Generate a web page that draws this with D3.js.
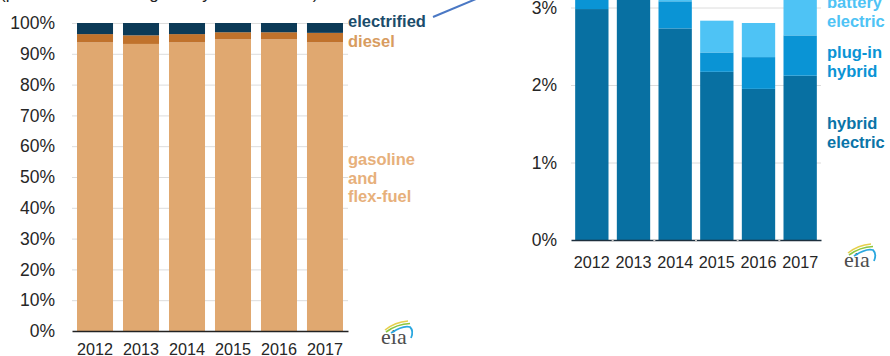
<!DOCTYPE html>
<html>
<head>
<meta charset="utf-8">
<script src="https://cdn.jsdelivr.net/npm/d3@7"></script>
<style>
  html, body { margin: 0; padding: 0; background: #fff; overflow: hidden; }
  svg { display: block; overflow: hidden; font-family: "Liberation Sans", Arial, sans-serif; }
</style>
</head>
<body>
<svg id="chart" width="890" height="356"></svg>
<script>
// Light-duty vehicle sales shares by fuel type, 2012-2017
const years = ["2012", "2013", "2014", "2015", "2016", "2017"];

// Left panel: share of all sales (percent)
const gasolineShare    = [93.7, 93.2, 93.7, 94.7, 94.7, 93.7];
const dieselShare      = [2.7, 2.8, 2.7, 2.3, 2.3, 3.1];
const electrifiedShare = [3.6, 4.0, 3.6, 3.0, 3.0, 3.2];
const shareTicks = [0, 10, 20, 30, 40, 50, 60, 70, 80, 90, 100];

// Right panel: electrified vehicles by type (percent of all sales)
const hybridShare  = [2.98, 3.20, 2.73, 2.17, 1.95, 2.12];
const plugInShare  = [0.30, 0.45, 0.35, 0.25, 0.41, 0.52];
const batteryShare = [0.10, 0.30, 0.35, 0.41, 0.44, 0.66];
const electricTicks = [0, 1, 2, 3];

const svg = d3.select("#chart");

// ---------- left panel ----------
const leftRows = years.map((y, i) => ({
  year: y, gasoline: gasolineShare[i], diesel: dieselShare[i], electrified: electrifiedShare[i]
}));
const leftKeys = ["gasoline", "diesel", "electrified"];
const leftColors = { gasoline: "#e0a870", diesel: "#c0722c", electrified: "#0c3a57" };

const xL = d3.scaleBand().domain(years).range([72, 348]).paddingInner(0.217).paddingOuter(0.109);
const yL = d3.scaleLinear().domain([0, 100]).range([331, 23]);

const gL = svg.append("g");

// gridlines
gL.append("g")
  .attr("transform", "translate(72,0)")
  .call(d3.axisLeft(yL).tickValues(shareTicks.slice(1)).tickSize(-276).tickFormat(""))
  .call(g => g.select(".domain").remove())
  .call(g => g.selectAll("line").attr("stroke", "#dcdcdc").attr("stroke-width", 1));

// tick labels
gL.append("g")
  .attr("transform", "translate(72,0)")
  .call(d3.axisLeft(yL).tickValues(shareTicks).tickSize(0).tickPadding(17).tickFormat(d => d + "%"))
  .call(g => g.select(".domain").remove())
  .call(g => g.selectAll("text").attr("font-size", 17.5).attr("fill", "#262626")
    .attr("font-family", "Liberation Sans, Arial, sans-serif"));

const stackL = d3.stack().keys(leftKeys)(leftRows);
gL.append("g").selectAll("g").data(stackL).join("g")
  .attr("fill", d => leftColors[d.key])
  .selectAll("rect").data(d => d).join("rect")
  .attr("x", d => xL(d.data.year))
  .attr("width", xL.bandwidth())
  .attr("y", d => yL(d[1]))
  .attr("height", d => yL(d[0]) - yL(d[1]));

// baseline and years
gL.append("g")
  .attr("transform", "translate(0,331)")
  .call(d3.axisBottom(xL).tickSize(0).tickPadding(12))
  .call(g => g.select(".domain").attr("stroke", "#222").attr("stroke-width", 1.5))
  .call(g => g.selectAll("text").attr("font-size", 16.2).attr("fill", "#262626")
    .attr("font-family", "Liberation Sans, Arial, sans-serif"));

// series labels
const leftLabels = [
  { lines: ["electrified"], y: 27, color: "#1b4c6b" },
  { lines: ["diesel"], y: 47, color: "#d89c5f" },
  { lines: ["gasoline", "and", "flex-fuel"], y: 165, color: "#e7b07b" }
];
leftLabels.forEach(l => {
  const t = gL.append("text").attr("x", 348).attr("y", l.y)
    .attr("font-size", 16.5).attr("font-weight", "bold").attr("fill", l.color);
  l.lines.forEach((s, i) => t.append("tspan").attr("x", 348).attr("dy", i ? 18.6 : 0).text(s));
});

// panel title (mostly above the visible frame)
svg.append("text").attr("x", 0).attr("y", -1).attr("font-size", 17).attr("fill", "#222")
  .text("(percent of annual light-duty vehicle sales)");

// connector from the electrified segment to the detail panel
svg.append("line").attr("x1", 433).attr("y1", 17).attr("x2", 476).attr("y2", -1)
  .attr("stroke", "#4a78c4").attr("stroke-width", 2);

// ---------- right panel ----------
const rightRows = years.map((y, i) => ({
  year: y, hybrid: hybridShare[i], plugIn: plugInShare[i], battery: batteryShare[i]
}));
const rightKeys = ["hybrid", "plugIn", "battery"];
const rightColors = { hybrid: "#0870a2", plugIn: "#0a94d5", battery: "#4ec3f5" };

const xR = d3.scaleBand().domain(years).range([571, 821]).paddingInner(0.2).paddingOuter(0.1);
const yR = d3.scaleLinear().domain([0, 3]).range([240, 7.5]);

const gR = svg.append("g");

gR.append("g")
  .attr("transform", "translate(571,0)")
  .call(d3.axisLeft(yR).tickValues(electricTicks.slice(1)).tickSize(-250).tickFormat(""))
  .call(g => g.select(".domain").remove())
  .call(g => g.selectAll("line").attr("stroke", "#dcdcdc").attr("stroke-width", 1));

gR.append("g")
  .attr("transform", "translate(571,0)")
  .call(d3.axisLeft(yR).tickValues(electricTicks).tickSize(0).tickPadding(14).tickFormat(d => d + "%"))
  .call(g => g.select(".domain").remove())
  .call(g => g.selectAll("text").attr("font-size", 17.5).attr("fill", "#262626")
    .attr("font-family", "Liberation Sans, Arial, sans-serif"));

const stackR = d3.stack().keys(rightKeys)(rightRows);
gR.append("g").selectAll("g").data(stackR).join("g")
  .attr("fill", d => rightColors[d.key])
  .selectAll("rect").data(d => d).join("rect")
  .attr("x", d => xR(d.data.year))
  .attr("width", xR.bandwidth())
  .attr("y", d => yR(d[1]))
  .attr("height", d => yR(d[0]) - yR(d[1]));

gR.append("g")
  .attr("transform", "translate(0,240)")
  .call(d3.axisBottom(xR).tickSize(0).tickPadding(16.5))
  .call(g => g.select(".domain").attr("stroke", "#1d2f3d").attr("stroke-width", 1.5))
  .call(g => g.selectAll("text").attr("font-size", 16.2).attr("fill", "#262626")
    .attr("font-family", "Liberation Sans, Arial, sans-serif"));

// small separators between the bars on the baseline
gR.append("g").selectAll("line").data(years.slice(1)).join("line")
  .attr("x1", d => xR(d) - xR.step() * 0.1).attr("x2", d => xR(d) - xR.step() * 0.1)
  .attr("y1", 239).attr("y2", 242)
  .attr("stroke", "#c8c8c8").attr("stroke-width", 2);

const rightLabels = [
  { lines: ["battery", "electric"], y: 8, color: "#4ec3f5" },
  { lines: ["plug-in", "hybrid"], y: 57.5, color: "#0a94d5" },
  { lines: ["hybrid", "electric"], y: 128.5, color: "#0a74a8" }
];
rightLabels.forEach(l => {
  const t = gR.append("text").attr("x", 827).attr("y", l.y)
    .attr("font-size", 16.5).attr("font-weight", "bold").attr("fill", l.color);
  l.lines.forEach((s, i) => t.append("tspan").attr("x", 827).attr("dy", i ? 19 : 0).text(s));
});

// ---------- source logos ----------
function logo(x, y) {
  const g = svg.append("g").attr("transform", `translate(${x},${y})`);
  g.append("text").attr("x", 0).attr("y", 23).attr("font-size", 22)
    .attr("font-family", "Liberation Serif, Times New Roman, serif").attr("fill", "#4d4d4d")
    .text("eia");
  g.append("path").attr("d", "M4,9 Q14,1 27,0").attr("fill", "none")
    .attr("stroke", "#e6d04c").attr("stroke-width", 1.6);
  g.append("path").attr("d", "M5,11 Q16,3 29,2.5").attr("fill", "none")
    .attr("stroke", "#8cc63f").attr("stroke-width", 1.6);
  g.append("path").attr("d", "M10,12 Q22,4 29,6 Q33,10 30,17").attr("fill", "none")
    .attr("stroke", "#2aa7df").attr("stroke-width", 1.8);
}
logo(381, 321);
logo(844, 244);
</script>
</body>
</html>
